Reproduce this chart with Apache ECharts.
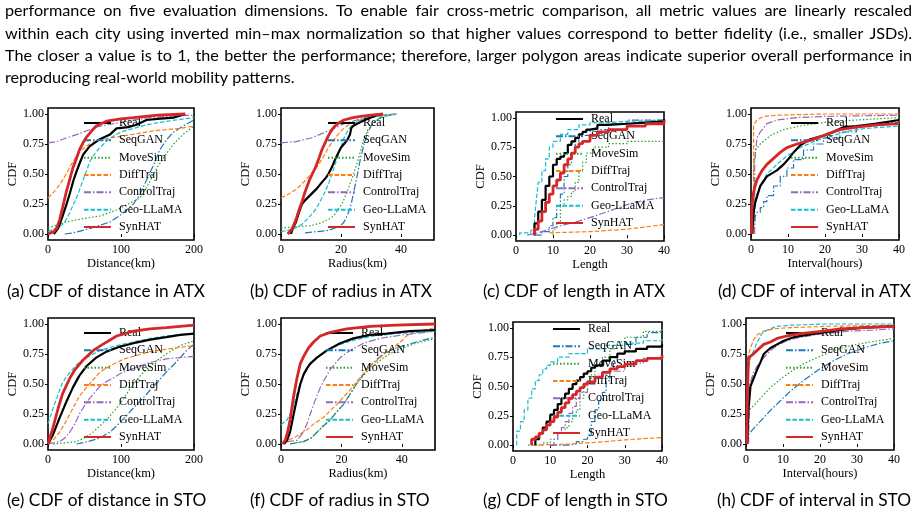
<!DOCTYPE html>
<html><head><meta charset="utf-8">
<script src="https://cdn.jsdelivr.net/npm/echarts@6/dist/echarts.min.js"></script>
<style>html,body{margin:0;padding:0;background:#fff}#c{width:917px;height:519px}</style>
</head><body><div id="c"></div>
<script>
// ---------- series names / ticks ----------
const seriesNames = ['Real','SeqGAN','MoveSim','DiffTraj','ControlTraj','Geo-LLaMA','SynHAT'];
const yTicks = [0, 0.25, 0.5, 0.75, 1];
const xTicksDist = [0, 100, 200];
const xTicksRad = [0, 20, 40];
const xTicksLen = [0, 10, 20, 30, 40];
const xTicksInt = [0, 10, 20, 30, 40];
const xNames = ['Distance(km)','Radius(km)','Length','Interval(hours)','Distance(km)','Radius(km)','Length','Interval(hours)'];
const captions = ['(a) CDF of distance in ATX','(b) CDF of radius in ATX','(c) CDF of length in ATX','(d) CDF of interval in ATX',
                  '(e) CDF of distance in STO','(f) CDF of radius in STO','(g) CDF of length in STO','(h) CDF of interval in STO'];
const bodyText = [
 'performance on five evaluation dimensions. To enable fair cross-metric comparison, all metric values are linearly rescaled',
 'within each city using inverted min\u2013max normalization so that higher values correspond to better fidelity (i.e., smaller JSDs).',
 'The closer a value is to 1, the better the performance; therefore, larger polygon areas indicate superior overall performance in',
 'reproducing real-world mobility patterns.'];

// ---------- (a) ATX distance ----------
const aReal = [[8,0],[14,0.05],[20,0.15],[25,0.24],[30,0.34],[35,0.45],[39,0.52],[44,0.6],[48,0.66],[57,0.73],[71,0.79],[85,0.83],[94,0.88],[110,0.89],[121,0.91],[135,0.95],[150,0.96],[172,0.97],[188,1.0]];
const aSeqGAN = [[23,0],[35,0.01],[48,0.03],[65,0.06],[85,0.1],[100,0.16],[117,0.25],[126,0.33],[135,0.45],[145,0.58],[153,0.7],[163,0.79],[172,0.85],[185,0.9],[200,0.95]];
const aMoveSim = [[0,0.05],[10,0.07],[25,0.1],[50,0.13],[71,0.15],[94,0.2],[110,0.25],[126,0.3],[138,0.42],[149,0.55],[160,0.65],[172,0.75],[185,0.83],[200,0.9]];
const aDiffTraj = [[0,0.3],[11,0.37],[18,0.43],[25,0.5],[32,0.58],[39,0.65],[48,0.71],[57,0.75],[70,0.78],[85,0.8],[105,0.82],[126,0.84],[145,0.86],[162,0.87],[180,0.88],[200,0.9]];
const aControlTraj = [[0,0.76],[12,0.77],[25,0.8],[40,0.83],[53,0.86],[66,0.89],[80,0.91],[100,0.93],[117,0.95],[140,0.97],[162,0.98],[200,0.99]];
const aGeoLLaMA = [[0,0.02],[12,0.05],[20,0.08],[25,0.12],[30,0.18],[35,0.25],[39,0.3],[44,0.38],[48,0.45],[53,0.53],[57,0.6],[64,0.67],[71,0.72],[85,0.8],[100,0.85],[117,0.88],[135,0.91],[153,0.93],[175,0.95],[200,0.97]];
const aSynHAT = [[0,0],[8,0.02],[12,0.05],[16,0.12],[20,0.22],[25,0.35],[30,0.46],[34,0.55],[39,0.63],[43,0.7],[48,0.76],[53,0.81],[60,0.86],[66,0.9],[80,0.94],[100,0.96],[117,0.97],[150,0.99],[188,1.0]];

// ---------- (b) ATX radius ----------
const bReal = [[3.3,0],[4,0.05],[5,0.1],[6,0.18],[7,0.25],[8,0.28],[10,0.33],[12,0.38],[13.6,0.43],[15,0.47],[15.8,0.5],[17,0.56],[18,0.62],[19,0.67],[20,0.72],[21,0.75],[22,0.78],[23,0.83],[23.4,0.88],[24,0.9],[25.5,0.92],[28,0.95],[30,0.97],[32,0.99],[34,1.0]];
const bSeqGAN = [[8,0.01],[12,0.02],[15.8,0.03],[18,0.05],[20,0.07],[21,0.1],[22,0.15],[22.8,0.2],[23.4,0.25],[24.5,0.38],[25.5,0.5],[26.5,0.63],[27.7,0.75],[28.8,0.84],[30,0.9],[31.5,0.94],[33,0.97],[35.5,0.99],[38.6,1.0]];
const bMoveSim = [[0,0.05],[5,0.06],[10,0.07],[13,0.09],[15.8,0.12],[17.5,0.15],[19,0.2],[20.5,0.26],[22,0.35],[23.8,0.47],[25.5,0.6],[26.6,0.7],[27.7,0.8],[29,0.87],[31,0.93],[33,0.96],[35,0.98],[38.6,1.0]];
const bDiffTraj = [[0,0.3],[3,0.34],[5,0.37],[7.5,0.43],[10,0.5],[12,0.56],[13.6,0.62],[15,0.68],[15.8,0.72],[17.5,0.78],[19,0.83],[20.5,0.87],[22,0.9],[24,0.93],[26.6,0.95],[30,0.97],[33,0.99],[38.6,1.0]];
const bControlTraj = [[0,0.76],[5,0.77],[10,0.8],[13,0.83],[15.8,0.86],[18.5,0.89],[21,0.92],[24,0.94],[26.6,0.96],[29,0.98],[32,0.99],[38.6,1.0]];
const bGeoLLaMA = [[0,0.02],[4,0.04],[7,0.08],[9,0.13],[11.4,0.2],[13,0.27],[14.7,0.35],[16,0.43],[17,0.5],[18,0.58],[19,0.65],[20,0.73],[21,0.8],[22.2,0.86],[23.4,0.9],[25,0.93],[26.6,0.95],[29,0.97],[32,0.98],[38.6,1.0]];
const bSynHAT = [[2.2,0],[3,0.02],[3.8,0.05],[5,0.12],[6,0.2],[7,0.27],[8,0.35],[9.5,0.45],[11.4,0.55],[12.5,0.62],[13.6,0.7],[14.7,0.76],[15.8,0.82],[17,0.87],[18,0.9],[19.5,0.93],[21,0.95],[24,0.97],[26.6,0.98],[30,0.99],[34,1.0]];

// ---------- (c) ATX length ----------
const cReal = [[5,0],[5,0.1],[6,0.2],[7,0.3],[8,0.42],[9,0.5],[10,0.6],[11,0.65],[12,0.67],[13,0.7],[14,0.77],[15,0.8],[16,0.83],[17,0.86],[18,0.88],[19,0.9],[20,0.91],[22,0.94],[25,0.95],[30,0.96],[35,0.97],[40,0.99]];
const cSeqGAN = [[5,0],[7,0.03],[9,0.08],[10,0.15],[11,0.25],[12,0.35],[13,0.5],[14,0.6],[15,0.7],[16,0.8],[17,0.85],[20,0.9],[25,0.95],[30,0.98],[40,1.0]];
const cMoveSim = [[10,0],[10,0.05],[11,0.11],[12,0.25],[13,0.3],[14,0.33],[15,0.37],[16,0.45],[17,0.55],[18,0.62],[19,0.7],[21,0.75],[25,0.78],[30,0.8],[40,0.81]];
const cDiffTraj = [[9,0.02],[15,0.025],[20,0.03],[25,0.04],[30,0.05],[35,0.07],[40,0.09]];
const cControlTraj = [[3,0],[6,0.02],[9,0.05],[12,0.08],[16,0.11],[21,0.16],[25.6,0.21],[30,0.26],[35,0.3],[40,0.32]];
const cGeoLLaMA = [[1,0],[1,0.02],[4,0.04],[5,0.15],[5.5,0.3],[6,0.45],[7,0.55],[8,0.65],[9,0.75],[10,0.8],[12,0.86],[14,0.9],[17,0.94],[20,0.96],[25,0.97],[30,0.98],[40,0.99]];
const cSynHAT = [[5,0],[5,0.05],[6,0.12],[7,0.2],[8,0.28],[9,0.35],[10,0.42],[11,0.47],[12,0.53],[13,0.6],[14,0.65],[15,0.7],[16,0.75],[17,0.78],[18,0.8],[20,0.85],[22,0.88],[25,0.9],[30,0.93],[35,0.95],[40,0.98]];

// ---------- (d) ATX interval ----------
const dReal = [[0.3,0],[0.5,0.1],[0.8,0.2],[1.2,0.27],[2.5,0.4],[4.3,0.48],[7,0.53],[8.8,0.58],[10,0.62],[11.5,0.68],[13.3,0.74],[16,0.79],[19.6,0.82],[22.2,0.85],[24.9,0.89],[28.5,0.9],[34,0.92],[40,0.95]];
const dSeqGAN = [[0.7,0],[1.2,0.15],[1.6,0.18],[2.5,0.22],[3.4,0.27],[4.3,0.32],[6.1,0.4],[7.9,0.48],[9.7,0.55],[11.5,0.62],[14.2,0.7],[16.9,0.75],[19.6,0.8],[24,0.85],[28.5,0.9],[34,0.93],[40,0.95]];
const dMoveSim = [[0.7,0],[0.7,0.55],[1.2,0.7],[2.5,0.75],[5.2,0.82],[8.8,0.87],[13.3,0.9],[19.6,0.93],[28.5,0.95],[40,0.97]];
const dDiffTraj = [[0.7,0],[0.7,0.91],[1.6,0.95],[3.4,0.98],[7,0.99],[20,1.0],[40,1.0]];
const dControlTraj = [[1,0],[1,0.6],[1.6,0.8],[2.5,0.85],[4.3,0.92],[7,0.95],[12.4,0.97],[20,0.98],[40,0.99]];
const dGeoLLaMA = [[0.1,0],[0.5,0.2],[1.2,0.3],[2.5,0.4],[4.3,0.5],[7,0.58],[9.7,0.65],[13.3,0.72],[17.8,0.78],[22,0.82],[26.7,0.86],[31,0.88],[40,0.9]];
const dSynHAT = [[0.1,0],[0.3,0.25],[0.7,0.35],[1.6,0.45],[3,0.53],[4.3,0.58],[6.1,0.63],[7.9,0.68],[9.7,0.72],[12.4,0.75],[16,0.78],[19.6,0.82],[24,0.87],[28.5,0.89],[34,0.91],[40,0.92]];

// ---------- (e) STO distance ----------
const eReal = [[0,0],[7,0.08],[16,0.22],[25,0.35],[34,0.47],[43,0.57],[53,0.65],[66,0.72],[80,0.77],[98,0.81],[117,0.84],[140,0.87],[162,0.89],[181,0.91],[200,0.92]];
const eSeqGAN = [[39,0],[55,0.02],[71,0.05],[85,0.1],[94,0.15],[105,0.22],[117,0.3],[130,0.38],[140,0.45],[152,0.53],[162,0.6],[172,0.66],[181,0.72],[190,0.78],[200,0.83]];
const eMoveSim = [[7,0],[25,0.01],[39,0.02],[50,0.05],[62,0.1],[71,0.15],[80,0.2],[90,0.27],[98,0.33],[108,0.42],[117,0.5],[128,0.58],[140,0.65],[150,0.7],[162,0.75],[181,0.82],[200,0.86]];
const eDiffTraj = [[0,0],[8,0.04],[16,0.1],[23,0.17],[30,0.25],[37,0.33],[43,0.4],[50,0.45],[57,0.5],[64,0.55],[71,0.6],[82,0.64],[94,0.68],[105,0.71],[117,0.73],[140,0.77],[162,0.79],[200,0.82]];
const eControlTraj = [[0,0],[16,0.02],[23,0.05],[30,0.1],[37,0.17],[43,0.25],[50,0.32],[57,0.38],[64,0.43],[71,0.48],[80,0.52],[89,0.55],[100,0.59],[117,0.63],[140,0.68],[162,0.71],[200,0.73]];
const eGeoLLaMA = [[0,0.17],[7,0.3],[12,0.38],[16,0.45],[20,0.51],[25,0.56],[32,0.61],[39,0.66],[46,0.69],[53,0.72],[62,0.75],[71,0.78],[94,0.82],[117,0.85],[140,0.88],[162,0.9],[200,0.92]];
const eSynHAT = [[0,0],[7,0.14],[14,0.3],[20,0.42],[30,0.55],[37,0.62],[48,0.7],[62,0.78],[75,0.83],[94,0.9],[117,0.94],[140,0.96],[162,0.97],[200,0.99]];

// ---------- (f) STO radius ----------
const fReal = [[1,0],[2,0.03],[3,0.1],[4.2,0.25],[5.3,0.38],[6.4,0.5],[7.5,0.58],[8.6,0.63],[9.7,0.67],[11.9,0.72],[15.2,0.78],[19.6,0.84],[24,0.88],[29.5,0.91],[35,0.92],[42.6,0.94],[51,0.95]];
const fSeqGAN = [[3,0],[7.5,0.02],[10,0.05],[12,0.1],[14,0.15],[16.3,0.2],[18.5,0.27],[20.7,0.33],[23,0.42],[25,0.5],[27.3,0.58],[29.5,0.65],[32,0.71],[34,0.75],[38,0.8],[41,0.82],[44.8,0.85],[51,0.89]];
const fMoveSim = [[3,0],[7.5,0.02],[10,0.05],[12,0.1],[14,0.15],[16.3,0.2],[18.5,0.27],[20.7,0.33],[23,0.42],[25,0.5],[27.3,0.57],[29.5,0.63],[32,0.68],[34,0.72],[38,0.78],[44.8,0.84],[51,0.88]];
const fDiffTraj = [[0.5,0.02],[4.2,0.05],[8.6,0.12],[11,0.17],[14,0.22],[16,0.27],[18.5,0.33],[21,0.4],[22.9,0.45],[26,0.55],[29.5,0.65],[32,0.7],[34,0.75],[38,0.82],[40,0.86],[41.5,0.9],[45.9,0.94],[51,0.97]];
const fControlTraj = [[2,0.02],[5.3,0.03],[7.5,0.1],[8.6,0.17],[9.7,0.25],[10.8,0.33],[11.9,0.4],[13,0.47],[14,0.52],[16.3,0.62],[19.6,0.72],[22.9,0.78],[27.3,0.84],[32.8,0.88],[40.5,0.91],[51,0.94]];
const fGeoLLaMA = [[0,0.16],[2,0.2],[3,0.25],[4.2,0.32],[5.3,0.42],[7,0.55],[9.1,0.65],[11.9,0.72],[15.2,0.78],[19.6,0.83],[25,0.87],[30.6,0.9],[38,0.92],[51,0.94]];
const fSynHAT = [[0.5,0],[1.4,0.03],[2.2,0.1],[3,0.2],[4.2,0.4],[5.3,0.55],[6.4,0.67],[7.5,0.73],[9.1,0.8],[10.8,0.85],[13,0.9],[16.3,0.93],[21.8,0.96],[29.5,0.98],[38,0.99],[51,1.0]];

// ---------- (g) STO length ----------
const gReal = [[6,0],[6,0.05],[7,0.1],[8,0.15],[9,0.2],[10,0.26],[11,0.3],[12,0.35],[13,0.4],[14,0.44],[15,0.48],[16,0.52],[17,0.55],[18,0.58],[19,0.61],[20,0.63],[21,0.66],[22,0.68],[24,0.72],[26,0.75],[28,0.78],[30,0.8],[33,0.82],[36,0.84],[40,0.86]];
const gSeqGAN = [[10,0],[15,0.01],[17,0.03],[19,0.05],[20,0.08],[21,0.2],[22,0.3],[23,0.38],[24,0.45],[25,0.55],[26,0.65],[27,0.72],[28,0.78],[30,0.86],[33,0.92],[36,0.96],[40,0.99]];
const gMoveSim = [[4,0],[8,0.02],[10,0.05],[12,0.1],[14,0.15],[15,0.2],[16,0.25],[17,0.3],[18,0.4],[19,0.5],[20,0.55],[21,0.6],[22,0.67],[24,0.75],[26,0.82],[28,0.88],[30,0.92],[35,0.97],[40,1.0]];
const gDiffTraj = [[5.4,0],[10,0.005],[15,0.01],[20,0.02],[25,0.03],[30,0.045],[35,0.055],[40,0.065]];
const gControlTraj = [[10,0],[11,0.05],[12,0.1],[13,0.15],[14,0.2],[15,0.27],[16,0.33],[17,0.4],[18,0.45],[20,0.52],[22,0.57],[25,0.63],[30,0.7],[35,0.74],[40,0.77]];
const gGeoLLaMA = [[1,0],[1,0.12],[2,0.2],[3,0.3],[4,0.4],[5,0.48],[6,0.55],[7,0.6],[8,0.65],[9,0.68],[10,0.71],[12,0.75],[15,0.78],[20,0.82],[25,0.85],[30,0.87],[35,0.89],[40,0.91]];
const gSynHAT = [[5,0],[5,0.05],[6,0.07],[7,0.1],[8,0.13],[9,0.17],[10,0.2],[11,0.24],[12,0.28],[13,0.32],[14,0.36],[15,0.4],[16,0.43],[17,0.46],[18,0.49],[19,0.52],[20,0.54],[22,0.58],[24,0.62],[26,0.65],[28,0.67],[30,0.69],[33,0.72],[36,0.74],[40,0.77]];

// ---------- (h) STO interval ----------
const hReal = [[0.3,0],[0.7,0.3],[1.2,0.48],[2.1,0.55],[3,0.62],[3.9,0.68],[4.8,0.75],[6.6,0.8],[8.4,0.83],[10.2,0.86],[12.9,0.89],[16.5,0.91],[21,0.93],[25.5,0.95],[31.8,0.97],[40,0.98]];
const hSeqGAN = [[0.5,0],[0.7,0.08],[2.1,0.13],[3.9,0.19],[6.6,0.28],[9.3,0.36],[12,0.44],[15.6,0.53],[19.2,0.61],[22.8,0.68],[27.3,0.75],[31.8,0.8],[36.3,0.84],[40,0.86]];
const hMoveSim = [[0.5,0],[0.7,0.28],[2.1,0.32],[3.9,0.38],[6.6,0.47],[9.3,0.54],[12,0.6],[15.6,0.67],[19.2,0.72],[23.7,0.78],[28.2,0.82],[33.6,0.85],[40,0.88]];
const hDiffTraj = [[0.3,0],[0.45,0.72],[1.2,0.8],[2.1,0.87],[3,0.91],[4.8,0.94],[7.5,0.96],[12,0.97],[21,0.98],[40,0.99]];
const hControlTraj = [[0.7,0],[1,0.5],[2.1,0.6],[3,0.65],[4.8,0.72],[6.6,0.78],[8.4,0.82],[11,0.86],[14.7,0.89],[21,0.92],[28,0.94],[34.5,0.95],[40,0.96]];
const hGeoLLaMA = [[0.4,0],[0.5,0.6],[1.2,0.72],[2.1,0.78],[3,0.85],[4.3,0.92],[5.7,0.95],[8.4,0.98],[12,0.99],[21,1.0],[40,1.0]];
const hSynHAT = [[0.2,0],[0.45,0.5],[0.7,0.72],[1.6,0.74],[3,0.78],[4.8,0.83],[6.6,0.85],[8.4,0.88],[11,0.9],[14.7,0.92],[21,0.94],[25.5,0.96],[31.8,0.97],[40,0.98]];

const panelSeries = [
  [aReal,aSeqGAN,aMoveSim,aDiffTraj,aControlTraj,aGeoLLaMA,aSynHAT],
  [bReal,bSeqGAN,bMoveSim,bDiffTraj,bControlTraj,bGeoLLaMA,bSynHAT],
  [cReal,cSeqGAN,cMoveSim,cDiffTraj,cControlTraj,cGeoLLaMA,cSynHAT],
  [dReal,dSeqGAN,dMoveSim,dDiffTraj,dControlTraj,dGeoLLaMA,dSynHAT],
  [eReal,eSeqGAN,eMoveSim,eDiffTraj,eControlTraj,eGeoLLaMA,eSynHAT],
  [fReal,fSeqGAN,fMoveSim,fDiffTraj,fControlTraj,fGeoLLaMA,fSynHAT],
  [gReal,gSeqGAN,gMoveSim,gDiffTraj,gControlTraj,gGeoLLaMA,gSynHAT],
  [hReal,hSeqGAN,hMoveSim,hDiffTraj,hControlTraj,hGeoLLaMA,hSynHAT]];
const xMaxes = [200, 51, 40, 40, 200, 51, 40, 40];
const xTickSets = [xTicksDist, xTicksRad, xTicksLen, xTicksInt, xTicksDist, xTicksRad, xTicksLen, xTicksInt];

// ---------- styles / layout ----------
const colors = ['#000000','#1f77b4','#2ca02c','#ff7f0e','#9467bd','#17becf','#d62728'];
const widths = [2.2, 1.2, 1.2, 1.2, 1.2, 1.2, 2.8];
const dashes = ['solid',[7,2,1.5,2],[1.5,2],[4.5,2],[7,2,1.5,2],[4.5,2],'solid'];
const zs = [3, 2, 2, 2, 2, 2, 4];
const stepPanels = {2: [0,1,2,5,6], 6: [0,1,2,4,5,6], 3: [1]};
const grids = [[48,108,146,132],[281,108,153,132],[516,112,148,129],[751,108,148,132],
               [48,318,146,132],[281,318,154,132],[513,322,149,129],[746,318,148,132]];
const yNameGaps = [27, 23, 27, 25, 27, 23, 25, 21];
const legendPos = [[83,116],[327,116],[555,112],[790,116],[83,326],[325,326],[552,322],[785,326]];
const captionPos = [[7,293],[250,293],[483,293],[718,293],[7,502],[250,502],[483,502],[717,502]];
const serif = 'Liberation Serif';
const sans = 'Lato';
const bodyFont = '16.2px ' + sans;
const captionFont = '17.3px ' + sans;

const option = {
  animation: false,
  backgroundColor: '#ffffff',
  grid: [], xAxis: [], yAxis: [], series: [], legend: [], graphic: []
};

grids.forEach((g, i) => {
  option.grid.push({left: g[0], top: g[1], width: g[2], height: g[3], show: true,
    borderColor: '#000', borderWidth: 1.6, backgroundColor: 'transparent', containLabel: false});
  option.xAxis.push({type: 'value', gridIndex: i, min: 0, max: xMaxes[i],
    name: xNames[i], nameLocation: 'middle', nameGap: 15,
    nameTextStyle: {fontFamily: serif, fontSize: 12.5, color: '#000'},
    axisLine: {show: false}, splitLine: {show: false},
    axisTick: {show: true, inside: false, length: 3, customValues: xTickSets[i], lineStyle: {color: '#000', width: 1}},
    axisLabel: {customValues: xTickSets[i], fontFamily: serif, fontSize: 12, color: '#000', margin: 4}});
  option.yAxis.push({type: 'value', gridIndex: i, min: -0.05, max: 1.05,
    name: 'CDF', nameLocation: 'middle', nameGap: yNameGaps[i], nameRotate: 90,
    nameTextStyle: {fontFamily: serif, fontSize: 12.5, color: '#000'},
    axisLine: {show: false}, splitLine: {show: false},
    axisTick: {show: true, inside: false, length: 3, customValues: yTicks, lineStyle: {color: '#000', width: 1}},
    axisLabel: {customValues: yTicks, fontFamily: serif, fontSize: 12, color: '#000', margin: 4,
      formatter: v => v.toFixed(2)}});
  const steps = stepPanels[i] || [];
  panelSeries[i].forEach((d, k) => {
    option.series.push({type: 'line', name: seriesNames[k], xAxisIndex: i, yAxisIndex: i,
      data: d, symbol: 'none', showSymbol: false, z: zs[k],
      step: steps.includes(k) ? 'end' : false,
      lineStyle: {color: colors[k], width: widths[k], type: dashes[k], cap: 'butt'},
      itemStyle: {color: colors[k]}, emphasis: {disabled: true}, silent: true});
  });
  option.legend.push({orient: 'vertical', left: legendPos[i][0], top: legendPos[i][1],
    data: seriesNames, itemWidth: 27, itemHeight: 14, itemGap: 3.33, selectedMode: false,
    padding: 0, backgroundColor: 'transparent', borderWidth: 0,
    itemStyle: {color: 'rgba(0,0,0,0)', borderWidth: 0, opacity: 0},
    textStyle: {fontFamily: serif, fontSize: 12, color: '#000', lineHeight: 14, padding: [0,0,0,3]}});
  option.graphic.push({type: 'text', left: captionPos[i][0], top: captionPos[i][1] - 10,
    style: {text: captions[i], font: captionFont, fill: '#000'}});
});

// body paragraph: lines 1-3 justified to the text block width, last line left-aligned
const measureCtx = document.createElement('canvas').getContext('2d');
measureCtx.font = bodyFont;
const blockLeft = 5, blockRight = 912;
bodyText.forEach((t, j) => {
  const y = 12 + j * 22.4 - 9;
  if (j === bodyText.length - 1) {
    option.graphic.push({type: 'text', left: blockLeft, top: y, style: {text: t, font: bodyFont, fill: '#000'}});
    return;
  }
  const words = t.split(' ');
  const ws = words.map(w => measureCtx.measureText(w).width);
  const total = ws.reduce((s, v) => s + v, 0);
  const gap = (blockRight - blockLeft - total) / (words.length - 1);
  let x = blockLeft;
  words.forEach((w, k) => {
    option.graphic.push({type: 'text', x: x, y: y, style: {text: w, font: bodyFont, fill: '#000', textVerticalAlign: 'top'}});
    x += ws[k] + gap;
  });
});

const chart = echarts.init(document.getElementById('c'), null, {renderer: 'canvas'});
chart.setOption(option);
</script></body></html>
